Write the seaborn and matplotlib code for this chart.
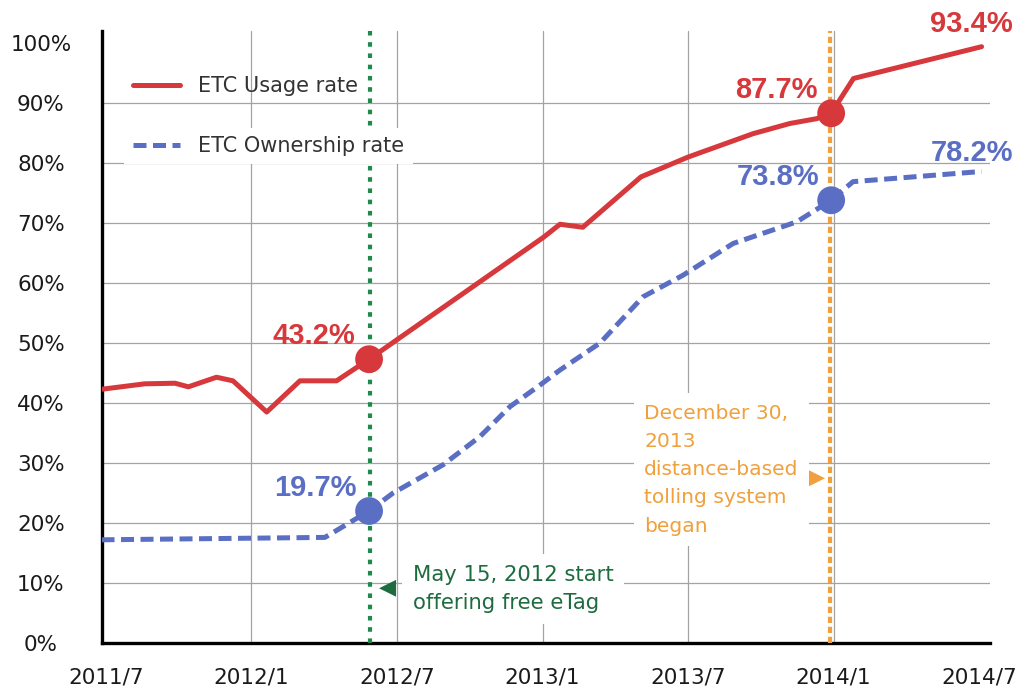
import pandas as pd
import seaborn as sns
from matplotlib import pyplot as plt

# x values are months counted from 2011/7
usage_month = [-0.16, 1.6, 2.85, 3.4, 4.56, 5.24, 6.63, 8.0, 9.51, 10.85, 18.03, 18.72,
               19.66, 22.06, 24.0, 26.68, 28.2, 29.3, 29.9, 30.82, 36.1]
usage_rate = [42.3, 43.2, 43.3, 42.7, 44.3, 43.7, 38.5, 43.7, 43.7, 47.3, 67.6, 69.8,
              69.3, 77.7, 81.0, 84.9, 86.6, 87.4, 88.3, 94.1, 99.4]

own_month = [-0.18, 9.03, 10.85, 11.84, 13.9, 15.42, 16.66, 17.9, 18.72, 20.37, 22.14,
             23.79, 25.86, 28.48, 29.9, 30.8, 36.1]
own_rate = [17.2, 17.6, 22.0, 25.0, 29.7, 34.4, 39.4, 43.0, 45.5, 50.0, 57.7,
            61.3, 66.6, 70.2, 73.8, 76.9, 78.6]

series_names = ["ETC Usage rate", "ETC Ownership rate"]

# highlighted points (index into the series) and their labels
usage_marks = [9, 18]
own_marks = [2, 14]
usage_labels = ["43.2%", "87.7%", "93.4%"]
own_labels = ["19.7%", "73.8%", "78.2%"]

tick_months = [0, 6, 12, 18, 24, 30, 36]
tick_names = ["2011/7", "2012/1", "2012/7", "2013/1", "2013/7", "2014/1", "2014/7"]

events = [10.88, 29.85]
event_texts = ["May 15, 2012 start\noffering free eTag",
               "December 30,\n2013\ndistance-based\ntolling system\nbegan"]

RED = "#d7383b"
BLUE = "#5a6ec4"
GREEN = "#1f8a4c"
DKGREEN = "#1d6b3f"
ORANGE = "#f0a03c"

sns.set_style("white")
plt.rcParams["font.family"] = ["DejaVu Sans"]

fig = plt.figure(figsize=(10.17, 6.91), dpi=100)
ax = fig.add_axes([0.1003, 0.0695, 0.8732, 0.8855])

usage = pd.DataFrame({"month": usage_month, "rate": usage_rate})
own = pd.DataFrame({"month": own_month, "rate": own_rate})

sns.lineplot(data=usage, x="month", y="rate", color=RED, lw=3.6, ax=ax, zorder=4)
sns.lineplot(data=own, x="month", y="rate", color=BLUE, lw=3.6, ax=ax, zorder=4,
             linestyle="--")
h_usage, h_own = ax.lines[0], ax.lines[1]
h_own.set_dashes((2.6, 1.3))
h_own.set_dash_capstyle("butt")

# event lines
ax.axvline(events[0], color=GREEN, lw=3, linestyle=(0, (1.1, 1.6)), zorder=3)
ax.axvline(events[1], color=ORANGE, lw=3, linestyle=(0, (1.5, 0.9)), zorder=3)

# highlighted markers
sns.scatterplot(x=[usage_month[i] for i in usage_marks], y=[usage_rate[i] for i in usage_marks],
                color=RED, s=400, edgecolor="none", ax=ax, zorder=6)
sns.scatterplot(x=[own_month[i] for i in own_marks], y=[own_rate[i] for i in own_marks],
                color=BLUE, s=400, edgecolor="none", ax=ax, zorder=6)

# value labels
lab_font = dict(family="Liberation Sans", weight="bold", size=21, ha="right", va="center")
for lab, i in zip(usage_labels, usage_marks + [-1]):
    dx, dy = (-0.55, 3.9) if i != -1 else (1.3, 3.8)
    ax.text(usage_month[i] + dx, usage_rate[i] + dy, lab, color=RED, clip_on=False,
            zorder=7, **lab_font)
for lab, i in zip(own_labels, own_marks + [-1]):
    dx, dy = (-0.5, 3.8) if i != -1 else (1.3, 3.0)
    ax.text(own_month[i] + dx, own_rate[i] + dy, lab, color=BLUE, clip_on=False,
            zorder=7, **lab_font)

# event annotations
ax.text(events[0] + 0.75, 9.3, "\u25C0", color=DKGREEN, fontsize=16, ha="center", va="center")
ax.text(events[0] + 1.78, 9.0, event_texts[0], color=DKGREEN, fontsize=15.2, ha="left",
        va="center", linespacing=1.5, zorder=3.5,
        bbox=dict(boxstyle="square,pad=0.5", fc="white", ec="none"))
ax.text(events[1] - 0.55, 27.7, "\u25B6", color=ORANGE, fontsize=16, ha="center", va="center")
ax.text(22.19, 28.9, event_texts[1], color=ORANGE, fontsize=14.6, ha="left",
        va="center", linespacing=1.62, zorder=3.5,
        bbox=dict(boxstyle="square,pad=0.5", fc="white", ec="none"))

# legends: the second one sits on a white box like in the original
leg_kw = dict(fontsize=15, handlelength=2.3, handletextpad=0.85, borderaxespad=0,
              loc="center left", labelcolor="#333333")
leg1 = ax.legend([h_usage], series_names[:1], bbox_to_anchor=(0.025, 0.91),
                 frameon=False, **leg_kw)
ax.add_artist(leg1)
leg2 = ax.legend([h_own], series_names[1:], bbox_to_anchor=(0.025, 0.812),
                 frameon=True, facecolor="white", edgecolor="none", framealpha=1,
                 fancybox=False, **leg_kw)

# axes
ax.set_xlim(-0.16, 36.45)
ax.set_ylim(0, 102)
ax.set_xticks(tick_months)
ax.set_xticklabels(tick_names)
ax.set_yticks(range(0, 101, 10))
ax.set_yticklabels([f"{v}%" for v in range(0, 101, 10)])
ax.set_xlabel("")
ax.set_ylabel("")
ax.tick_params(axis="both", length=0, labelsize=15.5, labelcolor="#1a1a1a")
ax.tick_params(axis="x", pad=18)
ax.tick_params(axis="y", pad=44)
for lbl in ax.get_yticklabels():
    lbl.set_ha("center")

ax.set_axisbelow(True)
ax.grid(True, color="#a3a3a3", lw=0.9)
ax.yaxis.get_gridlines()[-1].set_visible(False)
ax.xaxis.get_gridlines()[0].set_visible(False)
ax.xaxis.get_gridlines()[-1].set_visible(False)

sns.despine(ax=ax)
for side in ["left", "bottom"]:
    ax.spines[side].set_linewidth(2.4)
    ax.spines[side].set_color("black")

fig.savefig("out.png", dpi=100)
